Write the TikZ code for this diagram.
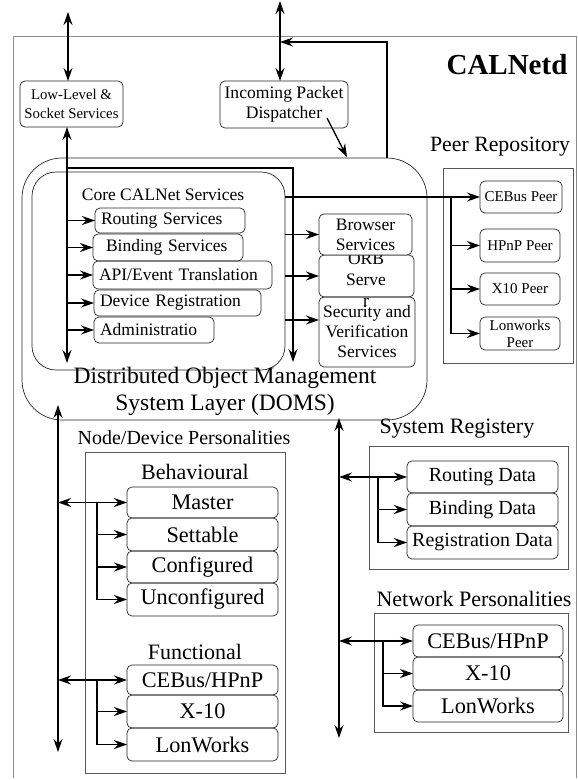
\documentclass[tikz,border=0pt]{standalone}
\usepackage{fontspec}
\setmainfont{Liberation Serif}
\usetikzlibrary{arrows.meta}
\tikzset{
    every node/.style={outer sep=0pt},
    arr/.style={-{Stealth[length=13pt, width=9pt]}, line width=1.3pt},
    darr/.style={{Stealth[length=13pt, width=9pt]}-{Stealth[length=13pt, width=9pt]},
        line width=1.3pt},
    frameline/.style={draw=black!45, line width=0.8pt},
    roundbox/.style={draw=black!85, line width=0.7pt, rounded corners=5pt,
        anchor=north west, inner sep=0pt},
    groupbox/.style={draw=black!65, line width=0.7pt, anchor=north west,
        inner sep=0pt},
    coresvc/.style={roundbox, align=left, inner xsep=6pt,
        font=\fontsize{17.5}{20}\selectfont},
    rightsvc/.style={roundbox, align=center, fill=white,
        font=\fontsize{17.5}{20}\selectfont},
    peerbox/.style={roundbox, minimum width=80pt, align=center,
        font=\fontsize{15}{17}\selectfont},
    persbox/.style={roundbox, minimum width=151pt, align=center,
        font=\fontsize{22.3}{24}\selectfont},
    databox/.style={roundbox, minimum width=151pt, align=center,
        font=\fontsize{20}{22}\selectfont},
    heading/.style={font=\fontsize{22}{24}\selectfont},
}

\begin{document}
\begin{tikzpicture}[x=1pt, y=-1pt]
    \useasboundingbox (0,0) rectangle (578,780);
    \draw[frameline] (13,778) -- (13,36) -- (576,36) -- (576,778); % Daemon frame
    \node[font=\fontsize{29}{30}\selectfont\bfseries] (calnetd) at (507,65) {CALNetd};

    % Entry points
    \node[roundbox, minimum width=103pt, minimum height=46pt, align=center,
        font=\fontsize{14.8}{18.5}\selectfont] (lowlevel) at (20,81)
        {Low-Level \&\\Socket Services};
    \node[roundbox, minimum width=128pt, minimum height=47pt, align=center,
        font=\fontsize{17.6}{20}\selectfont] (dispatcher) at (220,81)
        {Incoming Packet\\Dispatcher};
    \coordinate (lltop) at (68,12);
    \coordinate (disptop) at (280,1);
    \draw[darr] (lltop) -- (lltop |- lowlevel.north); % Outside to socket layer
    \draw[darr] (disptop) -- (disptop |- dispatcher.north); % Outside to dispatcher

    % DOMS layer
    \node[draw=black!85, line width=0.7pt, rounded corners=40pt, anchor=north west,
        minimum width=405pt, minimum height=262pt] (doms) at (22,158) {};
    \node[draw=black!85, line width=0.7pt, rounded corners=24pt, anchor=north west,
        minimum width=253pt, minimum height=198pt] (core) at (32,172) {};
    \node[font=\fontsize{17.5}{20}\selectfont] (corelabel) at (163,195)
        {Core CALNet Services};
    \node[align=center, font=\fontsize{23.5}{27}\selectfont] (domslabel) at (225,391)
        {Distributed Object Management\\System Layer (DOMS)};
    \coordinate (domsin) at (347,157);
    \coordinate (domsout) at (387,158);
    \coordinate (topturn) at (387,42);
    \draw[arr] ([xshift=-21pt, yshift=10pt]dispatcher.south east) -- (domsin);
        % Dispatcher into DOMS
    \draw[arr] (domsout) -- (topturn) -- (topturn -| disptop); % DOMS back out

    % Core services
    \node[coresvc, text width=138pt, minimum height=25pt] (routing) at (95,208)
        {Routing Services};
    \node[coresvc, text width=138pt, minimum height=27pt] (binding) at (93,234)
        {\hspace{7pt}Binding Services};
    \node[coresvc, text width=167pt, minimum height=28pt] (apievent) at (93,261)
        {API/Event Translation};
    \node[coresvc, text width=155pt, minimum height=26pt] (devreg) at (94,290)
        {Device Registration};
    \node[coresvc, text width=108pt, minimum height=26pt] (admin) at (94,317)
        {Administratio};
    \coordinate (busa) at (67,363);
    \draw[darr] (busa |- lowlevel.south) -- (busa); % Socket bus
    \foreach \svc in {routing, binding, apievent, devreg, admin}{
        \draw[arr] (busa |- \svc.west) -- (\svc.west); % Bus to service
    }
    \coordinate (coretop) at (67,168);
    \coordinate (coreright) at (293,168);
    \coordinate (coredown) at (293,362);
    \draw[arr] (coretop) -- (coreright) -- (coredown); % Loop round the core

    % Services beside the core
    \node[rightsvc, minimum width=96pt, minimum height=70pt] (security) at (319,297)
        {Security and\\Verification\\Services};
    \node[roundbox, minimum width=95pt, minimum height=42pt] (orb) at (319,255) {};
    \node[align=center, font=\fontsize{17.5}{21}\selectfont] (orbtext) at (366,280)
        {ORB\\Serve\\r};
    \node[rightsvc, minimum width=93pt, minimum height=41pt] (browser) at (319,214)
        {Browser\\Services};
    \draw[arr] (core.east |- browser.west) -- (browser.west);
    \draw[arr] (core.east |- orb.west) -- (orb.west);
    \draw[arr] (core.east |- security.west) ++(0,-12) -- ([yshift=12pt]security.west);

    % Peer repository
    \node[heading, font=\fontsize{21.8}{24}\selectfont] (peerlabel) at (500,147)
        {Peer Repository};
    \node[groupbox, minimum width=130pt, minimum height=195pt] (peerrepo) at (443,168) {};
    \node[peerbox, minimum width=82pt, minimum height=32pt] (cebuspeer) at (480,181)
        {CEBus Peer};
    \node[peerbox, minimum height=33pt] (hpnppeer) at (480,229) {HPnP Peer};
    \node[peerbox, minimum height=32pt] (xtenpeer) at (480,273) {X10 Peer};
    \node[peerbox, minimum height=33pt] (lonpeer) at (480,317) {Lonworks\\Peer};
    \draw[arr] (core.east |- cebuspeer.west) -- (cebuspeer.west); % Core to peers
    \coordinate (peerbranch) at ([xshift=-29pt]cebuspeer.west);
    \draw[arr] (peerbranch) |- (lonpeer.west);
    \draw[arr] (peerbranch |- hpnppeer.west) -- (hpnppeer.west);
    \draw[arr] (peerbranch |- xtenpeer.west) -- (xtenpeer.west);

    % Node/device personalities
    \node[font=\fontsize{20}{22}\selectfont] (nodelabel) at (184,438)
        {Node/Device Personalities};
    \node[groupbox, minimum width=200pt, minimum height=321pt] (nodedev) at (85,452) {};
    \node[heading] (behlabel) at (195,472) {Behavioural};
    \node[persbox, minimum height=31pt] (master) at (127,487) {Master};
    \node[persbox, minimum height=33pt] (settable) at (127,518) {Settable};
    \node[persbox, minimum height=32pt] (configured) at (127,551) {Configured};
    \node[persbox, minimum height=33pt] (unconfigured) at (127,583) {Unconfigured};
    \node[heading] (funclabel) at (195,652) {Functional};
    \node[persbox, minimum height=30pt] (fcebus) at (127,665) {CEBus/HPnP};
    \node[persbox, minimum height=33pt] (fxten) at (127,695) {X-10};
    \node[persbox, minimum height=33pt] (flon) at (127,728) {LonWorks};
    \coordinate (busbtop) at (58,405);
    \coordinate (busbbot) at (58,752);
    \draw[darr] (busbtop) -- (busbbot); % Personality bus
    \draw[darr] (busbtop |- master.west) -- (master.west);
    \coordinate (behbranch) at ([xshift=-30pt]master.west);
    \draw[arr] (behbranch) |- (unconfigured.west);
    \draw[arr] (behbranch |- settable.west) -- (settable.west);
    \draw[arr] (behbranch |- configured.west) -- (configured.west);
    \draw[darr] (busbtop |- fcebus.west) -- (fcebus.west);
    \coordinate (funcbranch) at ([xshift=-30pt]fcebus.west);
    \draw[arr] (funcbranch) |- (flon.west);
    \draw[arr] (funcbranch |- fxten.west) -- (fxten.west);

    % System registery
    \node[heading] (syslabel) at (457,429) {System Registery};
    \node[groupbox, minimum width=199pt, minimum height=123pt] (sysreg) at (369,446) {};
    \node[databox, minimum height=32pt] (routingdata) at (407,461) {Routing Data};
    \node[databox, minimum height=33pt] (bindingdata) at (407,493) {Binding Data};
    \node[databox, minimum height=33pt] (regdata) at (407,526) {Registration Data};
    \coordinate (busctop) at (339,418);
    \coordinate (buscbot) at (339,738);
    \draw[darr] (busctop) -- (buscbot); % Registry bus
    \draw[darr] (busctop |- routingdata.west) -- (routingdata.west);
    \coordinate (sysbranch) at ([xshift=-29pt]routingdata.west);
    \draw[arr] (sysbranch) |- (regdata.west);
    \draw[arr] (sysbranch |- bindingdata.west) -- (bindingdata.west);

    % Network personalities
    \node[heading] (netlabel) at (474,599) {Network Personalities};
    \node[groupbox, minimum width=194pt, minimum height=119pt] (netpers) at (374,613) {};
    \node[persbox, minimum width=150pt, minimum height=32pt] (ncebus) at (413,625)
        {CEBus/HPnP};
    \node[persbox, minimum width=150pt, minimum height=33pt] (nxten) at (413,657) {X-10};
    \node[persbox, minimum width=150pt, minimum height=32pt] (nlon) at (413,690)
        {LonWorks};
    \draw[darr] (busctop |- ncebus.west) -- (ncebus.west);
    \coordinate (netbranch) at ([xshift=-30pt]ncebus.west);
    \draw[arr] (netbranch) |- (nlon.west);
    \draw[arr] (netbranch |- nxten.west) -- (nxten.west);
\end{tikzpicture}
\end{document}
